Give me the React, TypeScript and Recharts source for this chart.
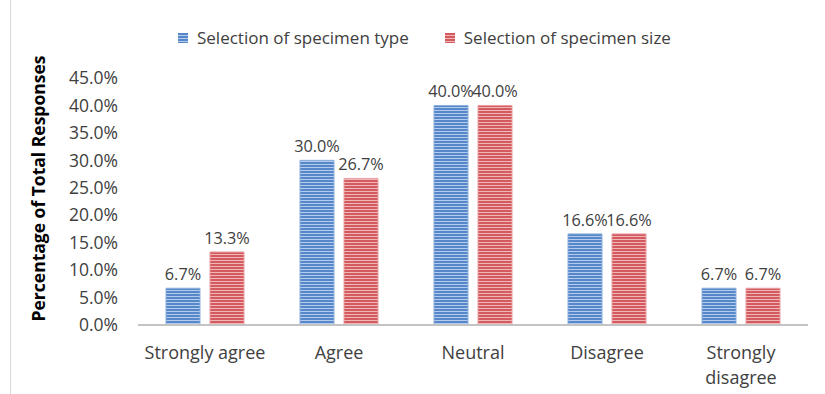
import React from 'react';
import { BarChart, Bar, XAxis, YAxis, Legend, LabelList, Text } from 'recharts';

const categories = ['Strongly agree', 'Agree', 'Neutral', 'Disagree', 'Strongly disagree'];
const specimenType = [6.7, 30.0, 40.0, 16.6, 6.7];
const specimenSize = [13.3, 26.7, 40.0, 16.6, 6.7];
const yTicks = [0, 5, 10, 15, 20, 25, 30, 35, 40, 45];
const seriesNames = ['Selection of specimen type', 'Selection of specimen size'];

const data = categories.map((c, i) => ({ name: c, type: specimenType[i], size: specimenSize[i] }));

const FONT = '"Open Sans", "Liberation Sans", sans-serif';
const TXT = '#404040';
const FS = 17.5;
const LFS = 16.3;
const pct = (v: any) => Number(v).toFixed(1) + '%';

const XTick = (props: any) => {
  const { x, y, payload } = props;
  return (
    <Text x={x} y={y + 13} width={128} textAnchor="middle" verticalAnchor="start" lineHeight={25}
      style={{ fontSize: 18, fontFamily: FONT }} fontSize={18} fontFamily={FONT} fill={TXT}>
      {payload.value}
    </Text>
  );
};

const LegendContent = () => (
  <div style={{ display: 'flex', alignItems: 'center', fontFamily: FONT, fontSize: 17, color: TXT }}>
    {seriesNames.map((n, i) => (
      <div key={n} style={{ display: 'flex', alignItems: 'center', marginRight: 36 }}>
        <svg width={10} height={10} style={{ marginRight: 9 }}>
          <rect width={10} height={10} fill={i === 0 ? 'url(#blueStripe)' : 'url(#redStripe)'} />
        </svg>
        <span>{n}</span>
      </div>
    ))}
  </div>
);

const YTitle = (props: any) => {
  const vb = props.viewBox || { x: 0, y: 0, height: 0 };
  const cx = 38;
  const cy = vb.y + vb.height / 2 - 13;
  return (
    <text x={cx} y={cy} transform={`rotate(-90, ${cx}, ${cy})`} textAnchor="middle" dominantBaseline="central"
      fontFamily={FONT} fontWeight="bold" fontSize={17.5} fill="#000">
      Percentage of Total Responses
    </text>
  );
};

export default function App() {
  return (
    <div style={{ position: 'absolute', left: 0, top: 0, width: 825, height: 394, background: '#fff' }}>
      <div style={{ position: 'absolute', left: 10, top: 0, width: 0, height: 394, borderLeft: '1px solid #d9d9d9' }} />
      <BarChart width={825} height={394} data={data} margin={{ top: 78, right: 17, bottom: 0, left: 0 }}
        barSize={34} barGap={10}>
        <defs>
          <pattern id="blueStripe" width={4} height={3} patternUnits="userSpaceOnUse">
            <rect width={4} height={3} fill="#5587c9" />
            <rect y={2} width={4} height={1} fill="#b3cbec" />
          </pattern>
          <pattern id="redStripe" width={4} height={3} patternUnits="userSpaceOnUse">
            <rect width={4} height={3} fill="#d35b5f" />
            <rect y={2} width={4} height={1} fill="#f1b7b8" />
          </pattern>
        </defs>
        <XAxis dataKey="name" interval={0} height={69} tick={<XTick />} tickLine={false}
          axisLine={{ stroke: '#c4c4c4', strokeWidth: 2 }} />
        <YAxis width={138} domain={[0, 45]} ticks={yTicks} interval={0} tickFormatter={pct} axisLine={false}
          tickLine={false} tickSize={0} tickMargin={20} tick={{ fontSize: FS, fontFamily: FONT, fill: TXT }}
          label={<YTitle />} />
        <Legend verticalAlign="middle" align="center" layout="horizontal" content={<LegendContent />}
          wrapperStyle={{ top: 26, left: 178, width: 630, height: 24 }} />
        <Bar dataKey="type" name={seriesNames[0]} fill="url(#blueStripe)" stroke="#8fb0dd" strokeWidth={1}
          isAnimationActive={false}>
          <LabelList dataKey="type" position="top" offset={8} formatter={pct}
            style={{ fontSize: LFS, fontFamily: FONT, fill: TXT }} />
        </Bar>
        <Bar dataKey="size" name={seriesNames[1]} fill="url(#redStripe)" stroke="#e8a0a2" strokeWidth={1}
          isAnimationActive={false}>
          <LabelList dataKey="size" position="top" offset={8} formatter={pct}
            style={{ fontSize: LFS, fontFamily: FONT, fill: TXT }} />
        </Bar>
      </BarChart>
    </div>
  );
}
